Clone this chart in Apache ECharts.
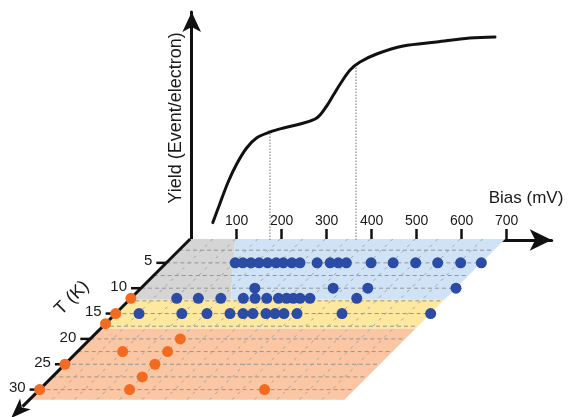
<!DOCTYPE html>
<html>
<head>
<meta charset="utf-8">
<script src="https://cdn.jsdelivr.net/npm/echarts@6/dist/echarts.min.js"></script>
<style>
  html, body { margin: 0; padding: 0; background: #fff; }
  #chart { width: 569px; height: 417px; }
</style>
</head>
<body>
<div id="chart"></div>
<script>
// bias axis (mV)
const biasTicks = [100, 200, 300, 400, 500, 600, 700];

// yield curve (arbitrary units)
const curveBias  = [47, 63, 81, 100, 122, 144, 174, 204, 241, 278, 300, 315, 330, 352, 374, 411, 470, 544, 618, 674];
const curveYield = [0.087, 0.184, 0.29, 0.38, 0.46, 0.51, 0.54, 0.56, 0.58, 0.61, 0.67, 0.725, 0.78, 0.85, 0.89, 0.93, 0.97, 0.99, 1.01, 1.015];
const dropBias  = [174, 364];
const dropYield = [0.54, 0.87];

// temperature axis (K)
const tTicks = [5, 10, 15, 20, 25, 30];
const gridT = [2.5, 5, 7.5, 10, 12.5, 15, 17.5, 20, 22.5, 25, 27.5, 30];
const gridBias = [50, 100, 150, 200, 250, 300, 350, 400, 450, 500, 550, 600, 650];
const floorBias = [0, 700];
const floorT = [0.3, 32];

// floor zones, vertices as [bias, T]
const grayZone   = [[0, 0.3], [100, 0.3], [225, 12.3], [0, 12.3]];
const blueZone   = [[100, 0.3], [700, 0.3], [700, 12.3], [225, 12.3]];
const yellowZone = [[0, 12.3], [700, 12.3], [700, 18], [0, 18]];
const orangeZone = [[0, 18], [700, 18], [700, 32], [0, 32]];

// blue points, one list of bias values per temperature row
const row5Bias  = [153, 170, 188, 206, 225, 244, 260, 279, 297, 335, 364, 382, 400, 455, 504, 554, 603, 654, 700];
const row10Bias = [253, 427, 504, 700];
const row12Bias = [102, 150, 200, 250, 276, 302, 328, 346, 361, 376, 398, 502];
const row15Bias = [52, 147, 203, 254, 283, 305, 334, 354, 374, 403, 503, 700];

// orange points
const orangeBias = [0, 0, 0, 0, 0, 100, 200, 200, 200, 200, 200, 500];
const orangeT    = [12, 15, 17, 25, 30, 22.5, 20, 22.5, 25, 27.5, 30, 30];

const zoneColors = ['#d5d5d5', '#cfe2f6', '#fde89f', '#fbc6a4'];
const FONT = 'Liberation Sans, Arial, sans-serif';

const chart = echarts.init(document.getElementById('chart'));

const blueDots = []
  .concat(row5Bias.map(b => [b, 5]))
  .concat(row10Bias.map(b => [b, 10]))
  .concat(row12Bias.map(b => [b, 12]))
  .concat(row15Bias.map(b => [b, 15]));
const orangeDots = orangeBias.map((b, i) => [b, orangeT[i]]);
const zones = [grayZone, blueZone, yellowZone, orangeZone];

// oblique floor: shift left by the vertical distance from T = 0
function skew(api, b, t) {
  const p = api.coord([b, t]);
  const o = api.coord([0, 0]);
  return [p[0] - (p[1] - o[1]), p[1]];
}

const floorSeries = (extra) => Object.assign({
  type: 'custom',
  coordinateSystem: 'cartesian2d',
  xAxisIndex: 1,
  yAxisIndex: 1,
  silent: true
}, extra);

const dot = (color) => (params, api) => {
  const p = skew(api, api.value(0), api.value(1));
  return { type: 'circle', shape: { cx: p[0], cy: p[1], r: 5.5 }, style: { fill: color } };
};

chart.setOption({
  animation: false,
  grid: [
    { left: 191.7, top: 12, width: 360, height: 228 },
    { left: 191.7, top: 237.5, width: 360, height: 162.24 }
  ],
  xAxis: [
    {
      gridIndex: 0, type: 'value', min: 0, max: 800,
      axisLine: {
        show: true, symbol: ['none', 'arrow'], symbolSize: [16, 22],
        lineStyle: { color: '#111', width: 3 }
      },
      axisTick: {
        show: true, inside: true, length: 11, customValues: biasTicks,
        lineStyle: { color: '#111', width: 2.5 }
      },
      axisLabel: {
        show: true, inside: true, margin: 12, customValues: biasTicks,
        color: '#1a1a1a', fontSize: 14, fontFamily: FONT
      },
      splitLine: { show: false }
    },
    { gridIndex: 1, type: 'value', min: 0, max: 800, show: false }
  ],
  yAxis: [
    {
      gridIndex: 0, type: 'value', min: 0, max: 1.14,
      axisLine: {
        show: true, symbol: ['none', 'arrow'], symbolSize: [14, 20],
        lineStyle: { color: '#111', width: 3 }
      },
      axisTick: { show: false },
      axisLabel: { show: false },
      splitLine: { show: false }
    },
    { gridIndex: 1, type: 'value', min: 0, max: 32, inverse: true, show: false }
  ],
  graphic: [
    {
      type: 'text', x: 176, y: 118, rotation: Math.PI / 2,
      style: { text: 'Yield (Event/electron)', fontSize: 18, fontFamily: FONT, fill: '#1a1a1a', align: 'center', verticalAlign: 'middle' }
    },
    {
      type: 'text', x: 526, y: 198,
      style: { text: 'Bias (mV)', fontSize: 17, fontFamily: FONT, fill: '#1a1a1a', align: 'center', verticalAlign: 'middle' }
    },
    {
      type: 'text', x: 72, y: 298, rotation: Math.PI / 4,
      style: { text: 'T (K)', fontSize: 18, fontFamily: FONT, fill: '#1a1a1a', align: 'center', verticalAlign: 'middle' }
    }
  ],
  series: [
    {
      type: 'line',
      xAxisIndex: 0, yAxisIndex: 0,
      data: curveBias.map((b, i) => [b, curveYield[i]]),
      smooth: 0.35,
      showSymbol: false,
      lineStyle: { color: '#111', width: 3, cap: 'round', join: 'round' },
      z: 3,
      markLine: {
        silent: true, symbol: 'none', label: { show: false },
        lineStyle: { color: '#a0a0a0', type: 'dotted', width: 1.5 },
        data: dropBias.map((b, i) => [{ coord: [b, 0] }, { coord: [b, dropYield[i]] }])
      }
    },
    // floor zones
    floorSeries({
      data: zones.map((z, i) => [i, 0]),
      z: 1,
      renderItem: (params, api) => {
        const i = params.dataIndex;
        return {
          type: 'polygon',
          shape: { points: zones[i].map(v => skew(api, v[0], v[1])) },
          style: { fill: zoneColors[i] }
        };
      }
    }),
    // dashed floor grid, constant T
    floorSeries({
      data: gridT.map(t => [0, t]),
      z: 2,
      renderItem: (params, api) => {
        const t = api.value(1);
        const a = skew(api, floorBias[0], t);
        const b = skew(api, floorBias[1], t);
        return {
          type: 'line',
          shape: { x1: a[0], y1: a[1], x2: b[0], y2: b[1] },
          style: { stroke: '#959595', lineWidth: 1, lineDash: [4, 3] }
        };
      }
    }),
    // dashed floor grid, constant bias
    floorSeries({
      data: gridBias.map(b => [b, 0]),
      z: 2,
      renderItem: (params, api) => {
        const bias = api.value(0);
        const a = skew(api, bias, floorT[0]);
        const b = skew(api, bias, floorT[1]);
        return {
          type: 'line',
          shape: { x1: a[0], y1: a[1], x2: b[0], y2: b[1] },
          style: { stroke: '#a2a2a2', lineWidth: 1, lineDash: [3, 5] }
        };
      }
    }),
    // T axis line with arrow
    floorSeries({
      data: [[0, 0]],
      z: 4,
      renderItem: (params, api) => {
        const s = skew(api, 0, floorT[0]);
        const tip = skew(api, 0, 35.6);
        const dx = tip[0] - s[0], dy = tip[1] - s[1];
        const len = Math.sqrt(dx * dx + dy * dy);
        const ux = dx / len, uy = dy / len;
        const px = -uy, py = ux;
        const base = [tip[0] - ux * 20, tip[1] - uy * 20];
        return {
          type: 'group',
          children: [
            {
              type: 'line',
              shape: { x1: s[0], y1: s[1], x2: base[0] + ux * 4, y2: base[1] + uy * 4 },
              style: { stroke: '#111', lineWidth: 3 }
            },
            {
              type: 'polygon',
              shape: {
                points: [
                  tip,
                  [base[0] + px * 7.5, base[1] + py * 7.5],
                  [base[0] + ux * 5, base[1] + uy * 5],
                  [base[0] - px * 7.5, base[1] - py * 7.5]
                ]
              },
              style: { fill: '#111' }
            }
          ]
        };
      }
    }),
    // T axis ticks and labels
    floorSeries({
      data: tTicks.map(t => [0, t]),
      z: 4,
      renderItem: (params, api) => {
        const t = api.value(1);
        const p = skew(api, 0, t);
        return {
          type: 'group',
          children: [
            {
              type: 'line',
              shape: { x1: p[0] - 10, y1: p[1], x2: p[0], y2: p[1] },
              style: { stroke: '#111', lineWidth: 2.5 }
            },
            {
              type: 'text',
              x: p[0] - 14, y: p[1] - 1.5,
              style: { text: String(t), fontSize: 15, fontFamily: FONT, fill: '#1a1a1a', align: 'right', verticalAlign: 'middle' }
            }
          ]
        };
      }
    }),
    // blue points
    floorSeries({ data: blueDots, z: 5, renderItem: dot('#2b4ba5') }),
    // orange points
    floorSeries({ data: orangeDots, z: 5, renderItem: dot('#f36a21') })
  ]
});
</script>
</body>
</html>
